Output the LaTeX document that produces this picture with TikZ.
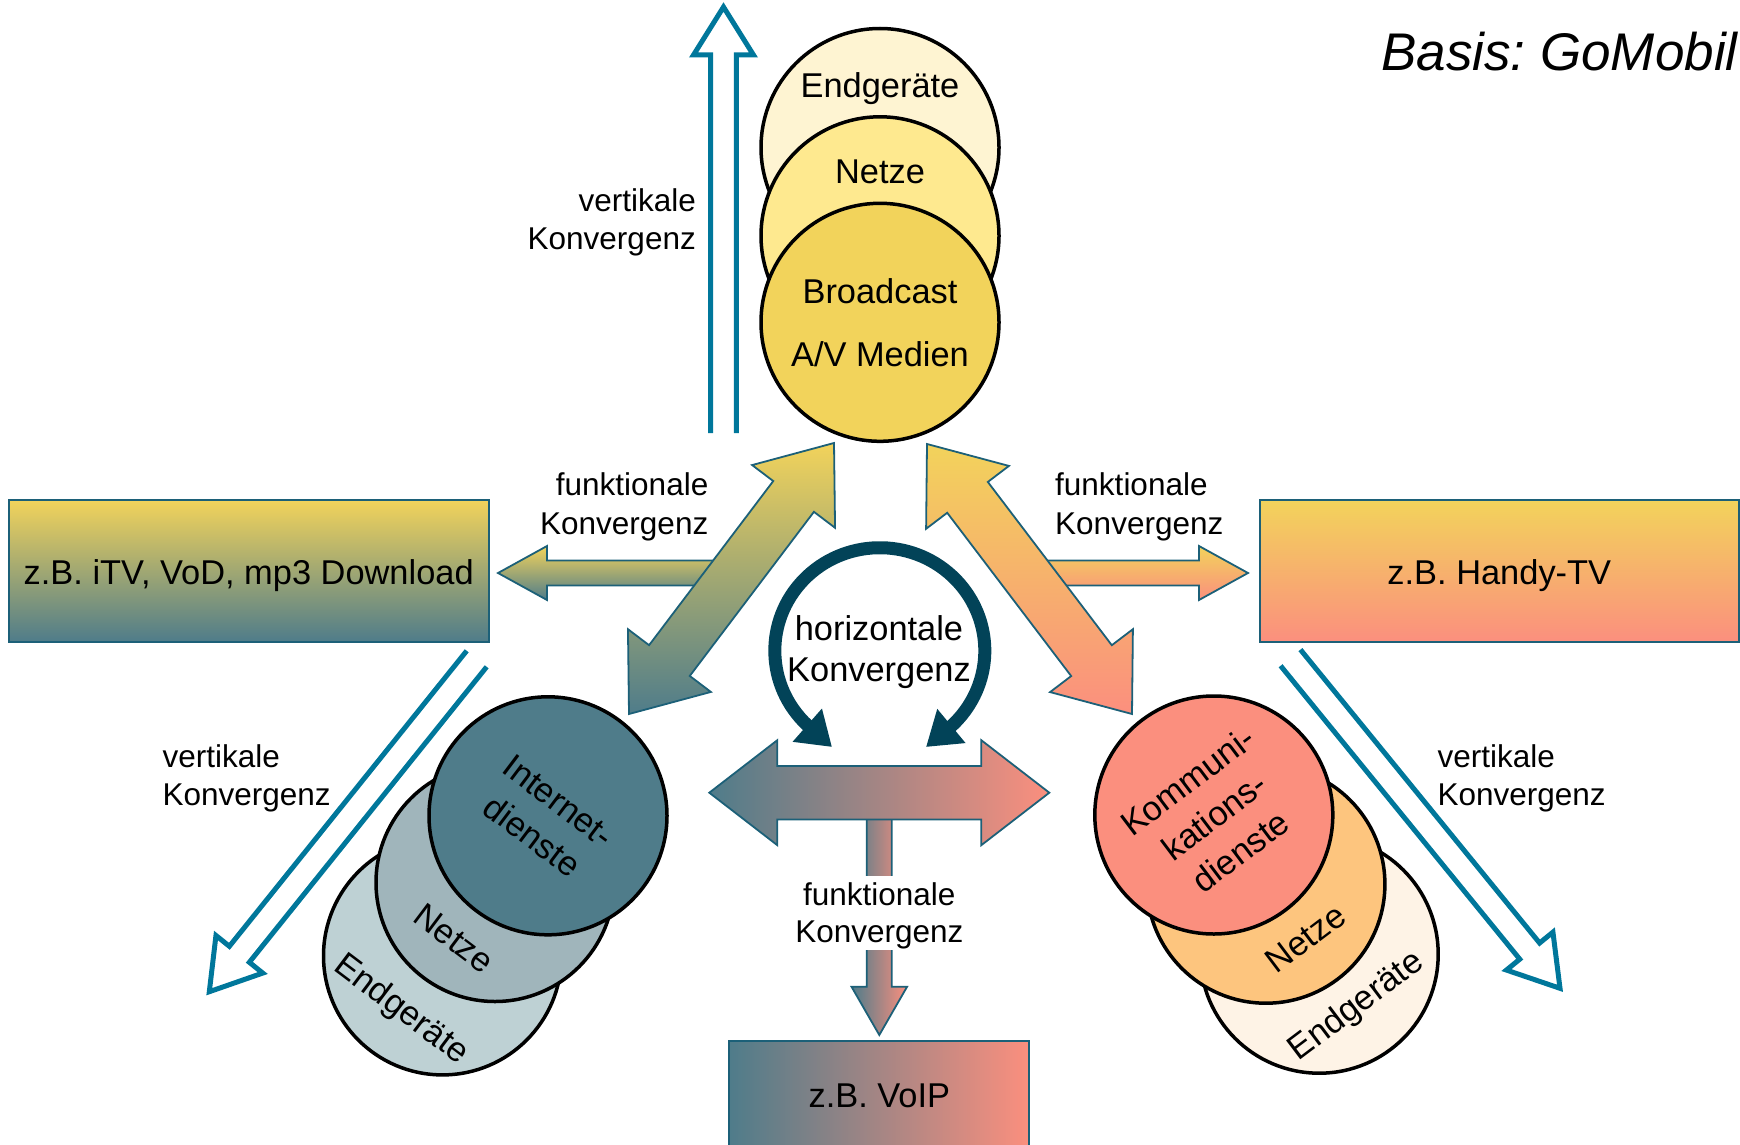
\documentclass[tikz,border=0pt]{standalone}
\usepackage{fontspec}
\setmainfont{Liberation Sans}
\frenchspacing
\usetikzlibrary{calc,arrows.meta}
\definecolor{cyel}{RGB}{242,211,91}
\definecolor{cteal}{RGB}{79,124,138}
\definecolor{csal}{RGB}{251,143,126}
\definecolor{cedge}{RGB}{28,96,120}
\definecolor{cvert}{RGB}{0,119,155}
\definecolor{ccurv}{RGB}{2,67,88}
\definecolor{tE}{RGB}{254,244,210}
\definecolor{tN}{RGB}{254,233,143}
\definecolor{tB}{RGB}{242,211,91}
\definecolor{lI}{RGB}{79,124,138}
\definecolor{lN}{RGB}{160,181,187}
\definecolor{lE}{RGB}{190,209,212}
\definecolor{rK}{RGB}{251,143,126}
\definecolor{rN}{RGB}{253,197,126}
\definecolor{rE}{RGB}{254,243,230}
\newcommand\bigfont{\fontsize{34.4pt}{44pt}\selectfont}
\newcommand\lblfont{\fontsize{31.5pt}{38pt}\selectfont}
\newcommand\basisfont{\fontsize{53pt}{60pt}\selectfont\itshape}
% double block arrow: style, tip A, tip B, shaft half, head half, head length
\newcommand\dblarrow[6]{%
  \coordinate (qa) at ($(#2)!#6!(#3)$);
  \coordinate (qb) at ($(#3)!#6!(#2)$);
  \path[#1] (#2) -- ($(qa)!#5!90:(#2)$) -- ($(qa)!#4!90:(#2)$)
    -- ($(qb)!#4!-90:(#3)$) -- ($(qb)!#5!-90:(#3)$) -- (#3)
    -- ($(qb)!#5!90:(#3)$) -- ($(qb)!#4!90:(#3)$)
    -- ($(qa)!#4!-90:(#2)$) -- ($(qa)!#5!-90:(#2)$) -- cycle;}
% single block arrow: style, tail, tip, shaft half, head half, head length
\newcommand\sglarrow[6]{%
  \coordinate (qa) at ($(#3)!#6!(#2)$);
  \path[#1] ($(#2)!#4!90:(#3)$) -- ($(qa)!#4!90:(#3)$) -- ($(qa)!#5!90:(#3)$)
    -- (#3) -- ($(qa)!#5!-90:(#3)$) -- ($(qa)!#4!-90:(#3)$)
    -- ($(#2)!#4!-90:(#3)$) -- cycle;}
% hollow open arrow
\newcommand\hollowarrow[6]{%
  \coordinate (qa) at ($(#3)!#6!(#2)$);
  \draw[#1] ($(#2)!#4!90:(#3)$) -- ($(qa)!#4!90:(#3)$) -- ($(qa)!#5!90:(#3)$)
    -- (#3) -- ($(qa)!#5!-90:(#3)$) -- ($(qa)!#4!-90:(#3)$)
    -- ($(#2)!#4!-90:(#3)$);}
\tikzset{
  disc/.style={circle, draw=black, line width=3.5pt, minimum size=238pt, inner sep=0pt},
  ctext/.style={font=\bigfont, inner sep=0pt, align=center},
  lbl/.style={font=\lblfont, inner sep=0pt},
  blk/.style={draw=cedge, line width=1.8pt, line join=miter},
  vert/.style={draw=cvert, line width=5pt, line join=miter},
  tbox/.style={rectangle, draw=cedge, line width=2pt, inner sep=0pt},
}
\begin{document}
\begin{tikzpicture}[x=1pt,y=-1pt]
\useasboundingbox (0,0) rectangle (1740,1145);
\clip (0,0) rectangle (1740,1145);

% vertical convergence arrows
\coordinate (vtT) at (723.5,433); \coordinate (vtP) at (723.5,7);
\hollowarrow{vert}{vtT}{vtP}{12.8pt}{30pt}{48pt}
\coordinate (vlT) at (476.7,658.8); \coordinate (vlP) at (209.3,991.7);
\hollowarrow{vert}{vlT}{vlP}{12.8pt}{30pt}{48pt}
\coordinate (vrT) at (1290.5,657.7); \coordinate (vrP) at (1560,988.3);
\hollowarrow{vert}{vrT}{vrP}{12.8pt}{30pt}{48pt}

% top stack
\node[disc, fill=tE] (tEn) at (880,147.5) {};
\node[disc, fill=tN] (tNe) at (880,235.8) {};
\node[disc, fill=tB] (tBr) at (880,322.3) {};
\node[ctext, anchor=base] (tEt) at (880,97.3) {Endgeräte};
\node[ctext, anchor=base] (tNt) at (880,183.3) {Netze};
\node[ctext, anchor=base] (tBt) at (880,303.3) {Broadcast};
\node[ctext, anchor=base] (tMt) at (880,366.7) {A/V Medien};

% small functional arrows to boxes
\coordinate (lsT) at (740,573); \coordinate (lsP) at (498,573);
\sglarrow{blk, top color=cyel, bottom color=cteal}{lsT}{lsP}{12.5pt}{27pt}{49pt}
\coordinate (rsT) at (1020,573); \coordinate (rsP) at (1248,573);
\sglarrow{blk, top color=cyel, bottom color=csal}{rsT}{rsP}{12.5pt}{27pt}{49pt}

% diagonal double arrows
\coordinate (ldA) at (834,443); \coordinate (ldB) at (629,714);
\dblarrow{blk, top color=cyel, bottom color=cteal}{ldA}{ldB}{25.5pt}{52pt}{67pt}
\coordinate (rdA) at (927,444); \coordinate (rdB) at (1132,714);
\dblarrow{blk, top color=cyel, bottom color=csal}{rdA}{rdB}{25.5pt}{52pt}{67pt}

% down arrow to VoIP
\coordinate (dT) at (879.3,800); \coordinate (dP) at (879.3,1035);
\sglarrow{blk, left color=cteal, right color=csal}{dT}{dP}{12.5pt}{27.8pt}{48.3pt}
\node[fill=white, minimum width=64pt, minimum height=74pt, inner sep=0pt] (gap) at (879.3,913) {};

% horizontal double arrow
\coordinate (hA) at (709.3,792.7); \coordinate (hB) at (1049.3,792.7);
\dblarrow{blk, left color=cteal, right color=csal}{hA}{hB}{26.7pt}{52.5pt}{68pt}

% curved arrow (horizontal convergence)
\coordinate (cL) at (832,747); \coordinate (cbL) at (807.4,725.3); \coordinate (cR) at (926,747);
\draw[ccurv, line width=13pt, {Triangle[length=33pt,width=42pt]}-{Triangle[length=33pt,width=42pt]}]
  (cL) -- (cbL) arc[start angle=226.4, end angle=-46.4, x radius=105pt, y radius=103pt] -- (cR);
\node[ctext, anchor=base] (hz1) at (879,640.7) {horizontale};
\node[ctext, anchor=base] (hz2) at (879,681.7) {Konvergenz};

% left stack
\node[disc, fill=lE] (lEn) at (442.5,955.9) {};
\node[disc, fill=lN] (lNe) at (495,882.5) {};
\node[disc, fill=lI] (lIn) at (548,815.8) {};
\node[ctext, rotate=-37] (lIt) at (545.3,818.7) {Internet-\\dienste};
\node[ctext, rotate=-37] (lNt) at (454,938.3) {Netze};
\node[ctext, rotate=-37] (lEt) at (401,1010) {Endgeräte};

% right stack
\node[disc, fill=rE] (rEn) at (1319.2,954.2) {};
\node[disc, fill=rN] (rNe) at (1265.9,884.2) {};
\node[disc, fill=rK] (rKo) at (1213.8,815) {};
\node[ctext, rotate=37] (rKt) at (1214,816) {Kommuni-\\kations-\\dienste};
\node[ctext, rotate=37] (rNt) at (1305.7,938.3) {Netze};
\node[ctext, rotate=37] (rEt) at (1356.7,1006.7) {Endgeräte};

% boxes
\node[tbox, top color=cyel, bottom color=cteal, minimum width=480pt, minimum height=141.7pt] (itv) at (249,570.8) {};
\node[ctext, anchor=base] (itvt) at (248.7,584.3) {z.B. iTV, VoD, mp3 Download};
\node[tbox, top color=cyel, bottom color=csal, minimum width=479.3pt, minimum height=141.7pt] (htv) at (1499.6,571) {};
\node[ctext, anchor=base] (htvt) at (1499.3,584) {z.B. Handy-TV};
\node[tbox, left color=cteal, right color=csal, minimum width=300pt, minimum height=141.7pt] (voip) at (879.3,1111.9) {};
\node[ctext, anchor=base] (voipt) at (879.3,1107.3) {z.B. VoIP};

% labels
\node[lbl, anchor=base east] (l1a) at (696,211) {vertikale};
\node[lbl, anchor=base east] (l1b) at (696,249) {Konvergenz};
\node[lbl, anchor=base east] (l2a) at (708.5,495.5) {funktionale};
\node[lbl, anchor=base east] (l2b) at (708.5,534.5) {Konvergenz};
\node[lbl, anchor=base west] (l3a) at (1055,495.5) {funktionale};
\node[lbl, anchor=base west] (l3b) at (1055,534.5) {Konvergenz};
\node[lbl, anchor=base] (l4a) at (879.3,905.7) {funktionale};
\node[lbl, anchor=base] (l4b) at (879.3,942.7) {Konvergenz};
\node[lbl, anchor=base west] (l5a) at (162.3,767.3) {vertikale};
\node[lbl, anchor=base west] (l5b) at (162.3,805.3) {Konvergenz};
\node[lbl, anchor=base west] (l6a) at (1437.3,767.3) {vertikale};
\node[lbl, anchor=base west] (l6b) at (1437.3,805.3) {Konvergenz};

\node[font=\basisfont, inner sep=0pt, anchor=base west] (basis) at (1381,71) {Basis: GoMobil};
\end{tikzpicture}
\end{document}
